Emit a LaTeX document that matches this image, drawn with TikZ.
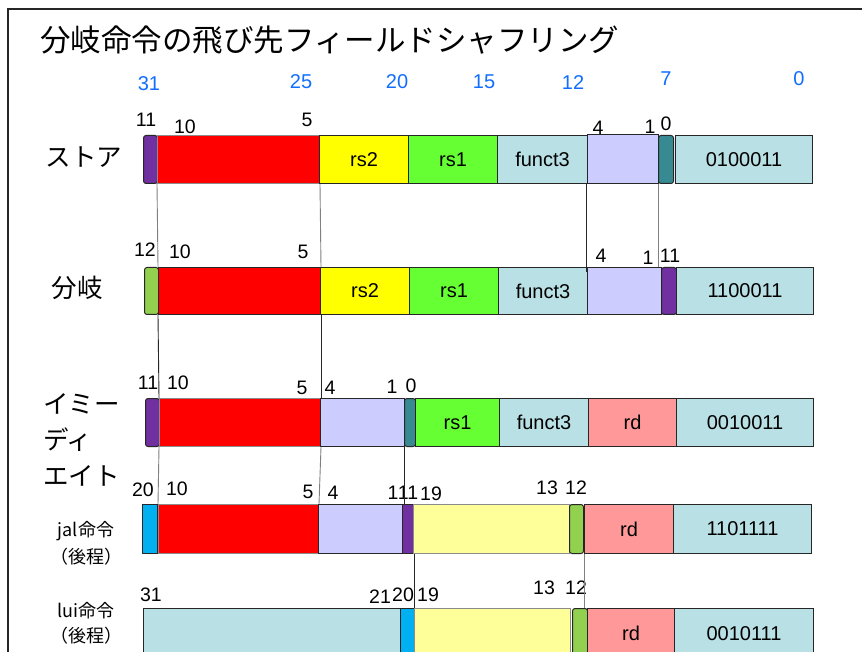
\documentclass[tikz,border=0pt]{standalone}
\usepackage{fontspec}
\setmainfont{Liberation Sans}
\newfontfamily\jp{Noto Sans CJK JP}
\definecolor{cPurple}{RGB}{112,48,160}
\definecolor{cRed}{RGB}{255,0,0}
\definecolor{cYellow}{RGB}{255,255,0}
\definecolor{cGreen}{RGB}{102,255,51}
\definecolor{cTeal}{RGB}{185,224,228}
\definecolor{cLav}{RGB}{204,204,255}
\definecolor{cDTeal}{RGB}{56,138,146}
\definecolor{cLGreen}{RGB}{146,208,80}
\definecolor{cBlue}{RGB}{0,176,240}
\definecolor{cLYellow}{RGB}{255,255,153}
\definecolor{cRd}{RGB}{255,153,153}
\definecolor{cNum}{RGB}{17,110,255}
\tikzset{
  fld/.style={draw=black!85, line width=1pt, inner sep=0pt, anchor=north west, font=\fontsize{20}{24}\selectfont},
  gfld/.style={fld, draw=black!45},
  rfld/.style={fld, rounded corners=2.5pt},
  bn/.style={font=\fontsize{19.5}{22}\selectfont, inner sep=0pt},
  hn/.style={font=\fontsize{20}{24}\selectfont, text=cNum, inner sep=0pt},
  conn/.style={draw=black!50, line width=0.9pt},
  connk/.style={draw=black!85, line width=0.9pt},
  rowlab/.style={font=\jp\fontsize{25.5}{36}\selectfont, inner sep=0pt},
  sublab/.style={font=\jp\fontsize{18}{27}\selectfont, inner sep=0pt, align=center}
}
\newcommand\bitbox[8]{\pgfmathsetmacro\bw{#5-#4}\pgfmathsetmacro\bh{#7-#6}%
  \node[#2, fill=#3, minimum width=\bw pt, minimum height=\bh pt] (#1) at (#4,#6) {#8};}
\begin{document}
\begin{tikzpicture}[x=1pt,y=-1pt]
\useasboundingbox (0,0) rectangle (862,652);
\fill[white] (0,0) rectangle (862,652);
\draw[line width=2.5pt, black!85] (875,9) -- (8,9) -- (8,670);

% title
\node[font=\jp\fontsize{30.5}{33}\selectfont, anchor=west, inner sep=0pt] (title) at (40,40) {分岐命令の飛び先フィールドシャフリング};

% blue bit positions
\node[hn] (h31) at (149,84) {31};
\node[hn] (h25) at (301,82) {25};
\node[hn] (h20) at (397,82) {20};
\node[hn] (h15) at (484,82) {15};
\node[hn] (h12) at (573,83) {12};
\node[hn] (h7)  at (666,79) {7};
\node[hn] (h0)  at (799,79) {0};

% row labels
\node[rowlab] (lst) at (84,157) {ストア};
\node[rowlab] (lbr) at (77,288) {分岐};
\node[rowlab, anchor=west, align=left] (lim) at (43,440) {イミー\\ディ\\エイト};
\node[sublab] (ljal) at (86,543) {jal命令\\（後程）};
\node[sublab, font=\jp\fontsize{18}{25}\selectfont] (llui) at (86,623) {lui命令\\（後程）};

% row 1 : store
\bitbox{r1p}{rfld}{cPurple}{143}{157}{135}{183}{}
\bitbox{r1red}{gfld}{cRed}{157}{319}{135}{183}{}
\bitbox{r1y}{fld}{cYellow}{319}{408}{135}{183}{rs2}
\bitbox{r1g}{fld}{cGreen}{408}{497}{135}{183}{rs1}
\bitbox{r1f3}{fld}{cTeal}{497}{587}{135}{183}{funct3}
\bitbox{r1lav}{fld}{cLav}{587}{658}{134}{183}{}
\bitbox{r1teal}{rfld}{cDTeal}{658}{673}{135}{183}{}
\bitbox{r1op}{fld}{cTeal}{675}{812}{135}{183}{0100011}
\node[bn] (a1) at (146,120) {11};
\node[bn] (a2) at (185,127) {10};
\node[bn] (a3) at (307,120) {5};
\node[bn] (a4) at (598,128) {4};
\node[bn] (a5) at (650,127) {1};
\node[bn] (a6) at (666,124) {0};

% row 2 : branch
\bitbox{r2lg}{rfld}{cLGreen}{144}{158}{267}{314}{}
\bitbox{r2red}{fld}{cRed}{158}{320}{267}{314}{}
\bitbox{r2y}{fld}{cYellow}{320}{409}{267}{314}{rs2}
\bitbox{r2g}{fld}{cGreen}{409}{498}{267}{314}{rs1}
\bitbox{r2f3}{fld}{cTeal}{498}{587}{267}{314}{funct3}
\bitbox{r2lav}{fld}{cLav}{587}{661}{267}{314}{}
\bitbox{r2p}{rfld}{cPurple}{661}{676}{267}{314}{}
\bitbox{r2op}{fld}{cTeal}{676}{813}{267}{314}{1100011}
\node[bn] (b1) at (145,250) {12};
\node[bn] (b2) at (180,252) {10};
\node[bn] (b3) at (303,252) {5};
\node[bn] (b4) at (601,256) {4};
\node[bn] (b5) at (648,258) {1};
\node[bn] (b6) at (670,256) {11};

% row 3 : immediate
\bitbox{r3p}{rfld}{cPurple}{145}{159}{398}{446}{}
\bitbox{r3red}{gfld}{cRed}{159}{320}{398}{446}{}
\bitbox{r3lav}{fld}{cLav}{320}{404}{398}{446}{}
\bitbox{r3teal}{rfld}{cDTeal}{404}{415}{398}{446}{}
\bitbox{r3g}{fld}{cGreen}{415}{499}{398}{446}{rs1}
\bitbox{r3f3}{fld}{cTeal}{499}{588}{398}{446}{funct3}
\bitbox{r3rd}{fld}{cRd}{588}{676}{398}{446}{rd}
\bitbox{r3op}{fld}{cTeal}{676}{813}{398}{446}{0010011}
\node[bn] (c1) at (148,383) {11};
\node[bn] (c2) at (178,383) {10};
\node[bn] (c3) at (302,388) {5};
\node[bn] (c4) at (330,388) {4};
\node[bn] (c5) at (392,387) {1};
\node[bn] (c6) at (411,386) {0};

% row 4 : jal
\bitbox{r4b}{fld}{cBlue}{142}{157}{504}{553}{}
\bitbox{r4red}{gfld}{cRed}{158}{318}{504}{553}{}
\bitbox{r4lav}{fld}{cLav}{318}{402}{504}{553}{}
\bitbox{r4p}{fld}{cPurple}{402}{413}{504}{553}{}
\bitbox{r4ly}{gfld}{cLYellow}{413}{569}{504}{553}{}
\bitbox{r4lg}{rfld}{cLGreen}{569}{583}{504}{553}{}
\bitbox{r4rd}{fld}{cRd}{584}{673}{504}{553}{rd}
\bitbox{r4op}{fld}{cTeal}{673}{811}{504}{553}{1101111}
\node[bn] (d1) at (143,490) {20};
\node[bn] (d2) at (177,489) {10};
\node[bn] (d3) at (308,492) {5};
\node[bn] (d4) at (333,493) {4};
\node[bn] (d5) at (393,493) {1};
\node[bn] (d6) at (408,493) {11};
\node[bn] (d7) at (431,494) {19};
\node[bn] (d8) at (547,488) {13};
\node[bn] (d9) at (576,488) {12};

% row 5 : lui
\bitbox{r5t}{fld}{cTeal}{143}{400}{608}{658}{}
\bitbox{r5b}{fld}{cBlue}{400}{414}{608}{658}{}
\bitbox{r5ly}{gfld}{cLYellow}{414}{570}{608}{658}{}
\bitbox{r5lg}{rfld}{cLGreen}{572}{587}{608}{658}{}
\bitbox{r5rd}{fld}{cRd}{587}{674}{608}{658}{rd}
\bitbox{r5op}{fld}{cTeal}{674}{813}{608}{658}{0010111}
\node[bn] (e1) at (151,595) {31};
\node[bn] (e2) at (380,597) {21};
\node[bn] (e3) at (403,595) {20};
\node[bn] (e4) at (428,595) {19};
\node[bn] (e5) at (544,588) {13};
\node[bn] (e6) at (576,588) {12};

% connectors
\draw[conn] (r1red.south west) -- (r2red.north west);
\draw[conn] (r1red.south east) -- (r2red.north east);
\draw[connk] ([xshift=-2pt]r1f3.south east) -- ([xshift=-2pt,yshift=-5pt]r2f3.north east);
\draw[conn] (r1teal.south west) -- (r1teal.south west |- r2lav.north);
\draw[connk] (r2red.south west) -- (r3red.north west);
\draw[connk] (r2red.south east) -- (r3red.north east);
\draw[conn] (r3red.south west) -- (r4red.north west);
\draw[conn] (r3red.south east) -- (r4red.north east);
\draw[connk] (r3teal.south west) -- (r3teal.south west |- r4p.north);
\draw[connk] (r4p.south east) -- (r4p.south east |- r5b.north);
\draw[conn] (r4lg.south east) -- (r4lg.south east |- r5lg.north);
\end{tikzpicture}
\end{document}
